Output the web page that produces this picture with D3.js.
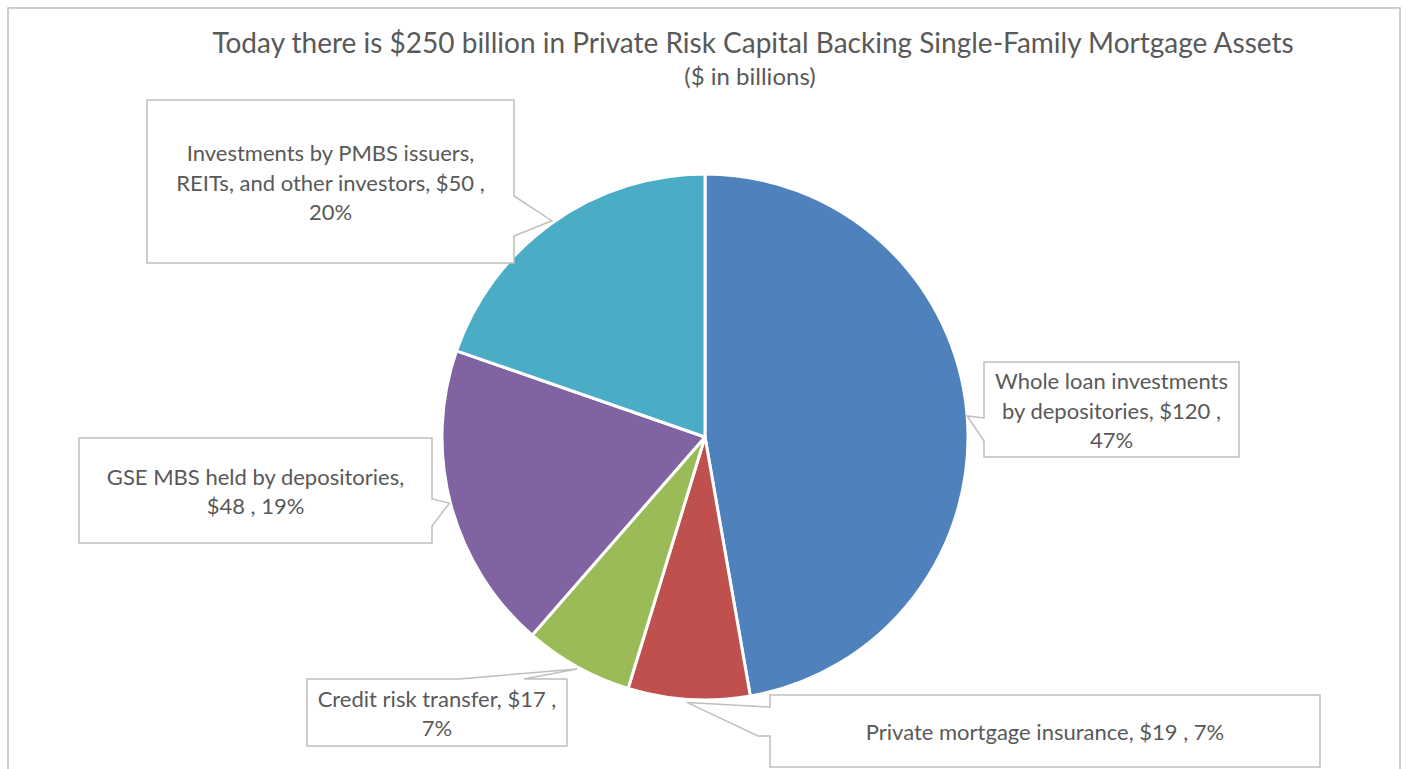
<!DOCTYPE html>
<html>
<head>
<meta charset="utf-8">
<script src="https://cdn.jsdelivr.net/npm/d3@7"></script>
<style>
  html, body { margin: 0; padding: 0; background: #ffffff; }
  svg { display: block; }
  text { font-family: Lato, "Open Sans", sans-serif; fill: #595959; }
</style>
</head>
<body>
<svg id="chart" width="1406" height="769"></svg>
<script>
// Private risk capital backing single-family mortgage assets ($ billions)
const categories = [
  "Whole loan investments by depositories",
  "Private mortgage insurance",
  "Credit risk transfer",
  "GSE MBS held by depositories",
  "Investments by PMBS issuers, REITs, and other investors"
];
const values = [120, 19, 17, 48, 50];
const sliceColors = ["#4F81BD", "#C0504D", "#9BBB59", "#8064A2", "#4BACC6"];
const titleText = "Today there is $250 billion in Private Risk Capital Backing Single-Family Mortgage Assets";
const subtitleText = "($ in billions)";

// Callout boxes for the data labels (one per slice, same order as categories)
const callouts = [
  { x: 984, y: 362, w: 255, h: 95,  edge: "left",  b1: 56, b2: 79, tipAngle: 85.4,  tipR: 263, wrap: 245 },
  { x: 770, y: 695, w: 550, h: 72,  edge: "left",  b1: 12, b2: 41, kink: 12, tipAngle: 183.9, tipR: 266, wrap: 500 },
  { x: 307, y: 679, w: 260, h: 67,  edge: "top",   b1: 152, b2: 217, tipAngle: 208.9, tipR: 265, wrap: 252 },
  { x: 79,  y: 438, w: 353, h: 105, edge: "right", b1: 61, b2: 88, tipAngle: 255.5, tipR: 264, wrap: 318 },
  { x: 147, y: 100, w: 367, h: 163, edge: "right", b1: 96, b2: 136, tipAngle: 324.7, tipR: 265, wrap: 332 }
];

const W = 1406, H = 769;
const cx = 705, cy = 437, radius = 263;
const labelFont = 22, lineH = 29.5;

const svg = d3.select("#chart");

// outer chart frame
svg.append("rect")
  .attr("x", 8).attr("y", 8)
  .attr("width", 1392).attr("height", 800)
  .attr("fill", "#ffffff")
  .attr("stroke", "#bfbfbf").attr("stroke-width", 1.5);

// titles
svg.append("text")
  .attr("x", 753).attr("y", 53)
  .attr("text-anchor", "middle")
  .attr("font-size", 28)
  .text(titleText);
svg.append("text")
  .attr("x", 750).attr("y", 85)
  .attr("text-anchor", "middle")
  .attr("font-size", 24)
  .text(subtitleText);

// pie
const total = d3.sum(values);
const data = categories.map((c, i) => ({ name: c, value: values[i], color: sliceColors[i], i }));
const pie = d3.pie().value(d => d.value).sort(null);
const arcs = pie(data);
const arc = d3.arc().innerRadius(0).outerRadius(radius);

const g = svg.append("g").attr("transform", `translate(${cx},${cy})`);
g.selectAll("path.slice")
  .data(arcs)
  .join("path")
  .attr("class", "slice")
  .attr("d", arc)
  .attr("fill", d => d.data.color)
  .attr("stroke", "#ffffff")
  .attr("stroke-width", 3)
  .attr("stroke-linejoin", "round");

// callout shapes
function tipPoint(c) {
  const a = c.tipAngle * Math.PI / 180;
  return [cx + c.tipR * Math.sin(a), cy - c.tipR * Math.cos(a)];
}
function calloutPath(c) {
  const { x, y, w, h } = c;
  const tip = tipPoint(c);
  const pts = [[x, y]];
  if (c.edge === "top") pts.push([x + c.b1, y], tip, [x + c.b2, y]);
  pts.push([x + w, y]);
  if (c.edge === "right") pts.push([x + w, y + c.b1], tip, [x + w, y + c.b2]);
  pts.push([x + w, y + h]);
  pts.push([x, y + h]);
  if (c.edge === "left") {
    pts.push([x, y + c.b2]);
    if (c.kink) pts.push([x - c.kink, y + c.b2]);
    pts.push(tip, [x, y + c.b1]);
  }
  return d3.line()(pts) + "Z";
}

const labelG = svg.append("g");
arcs.forEach((d, i) => {
  const c = callouts[i];
  labelG.append("path")
    .attr("d", calloutPath(c))
    .attr("fill", "#ffffff")
    .attr("stroke", "#bfbfbf")
    .attr("stroke-width", 1.5)
    .attr("stroke-linejoin", "miter");

  const pct = Math.round(d.data.value / total * 100);
  const label = `${d.data.name}, $${d.data.value} , ${pct}%`;

  // word wrap into the box
  const t = labelG.append("text")
    .attr("text-anchor", "middle")
    .attr("font-size", labelFont);
  const words = label.split(" ");
  const lines = [];
  let line = "";
  const probe = t.append("tspan");
  words.forEach(wd => {
    const test = line ? line + " " + wd : wd;
    probe.text(test);
    if (probe.node().getComputedTextLength() > c.wrap && line) {
      lines.push(line);
      line = wd;
    } else {
      line = test;
    }
  });
  if (line) lines.push(line);
  probe.remove();

  const midY = c.y + c.h / 2 + 1.5;
  const firstY = midY - (lines.length - 1) * lineH / 2;
  lines.forEach((ln, k) => {
    t.append("tspan")
      .attr("x", c.x + c.w / 2)
      .attr("y", firstY + k * lineH)
      .attr("dy", "0.35em")
      .text(ln);
  });
});
</script>
</body>
</html>
